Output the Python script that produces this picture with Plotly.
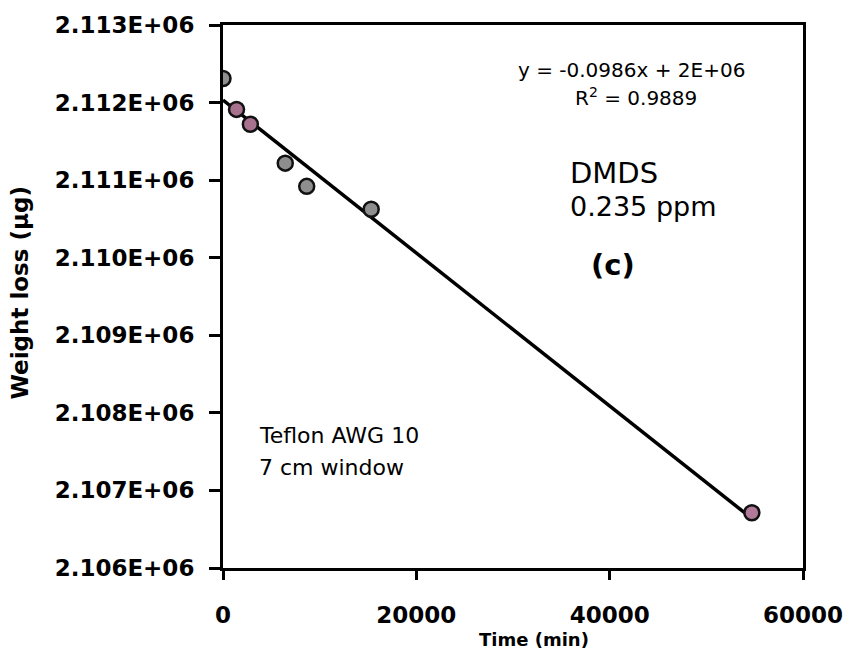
import numpy as np
import plotly.graph_objects as go

# Measured weight of the Teflon tube over time (DMDS 0.235 ppm)
time_min = [0, 1400, 2830, 6440, 8660, 15330, 54710]
weight_ug = [2112310, 2111912, 2111720, 2111219, 2110920, 2110625, 2106712]
marker_fill = ["#8e8e8e", "#a8728f", "#a8728f", "#8e8e8e", "#8e8e8e", "#8e8e8e", "#b07a98"]

# Linear trend reported on the chart
slope = -0.0986
r_squared = 0.9889

x_ticks = [0, 20000, 40000, 60000]
x_tick_text = ["0", "20000", "40000", "60000"]
y_ticks = [2106000, 2107000, 2108000, 2109000, 2110000, 2111000, 2112000, 2113000]
y_tick_text = ["2.106E+06", "2.107E+06", "2.108E+06", "2.109E+06",
               "2.110E+06", "2.111E+06", "2.112E+06", "2.113E+06"]

# Intercept of the trend line with the reported slope
xs = np.array(time_min, dtype=float)
ys = np.array(weight_ug, dtype=float)
intercept = ys.mean() - slope * xs.mean()
trend_x = np.array([0.0, xs.max()])
trend_y = slope * trend_x + intercept

W, H = 855, 660
L, R, T, B = 223, 810, 23, 568


def px(x, y):
    """Pixel position -> paper coordinates."""
    return (x - L) / (R - L), (B - y) / (B - T)


fig = go.Figure()
fig.add_trace(go.Scatter(
    x=trend_x, y=trend_y, mode="lines",
    line=dict(color="black", width=3.5), hoverinfo="skip", showlegend=False,
))
fig.add_trace(go.Scatter(
    x=time_min, y=weight_ug, mode="markers",
    marker=dict(symbol="circle", size=15, color=marker_fill,
                line=dict(color="#111111", width=2.5)),
    showlegend=False,
))

tick_font = dict(family="DejaVu Sans", size=23, color="black", weight="bold")
axis_common = dict(
    showline=True, linewidth=3, linecolor="black", mirror=True,
    ticks="outside", tickwidth=3, tickcolor="black",
    showgrid=False, zeroline=False, tickfont=tick_font,
)

fig.update_xaxes(range=[0, 60000], tickvals=x_ticks, ticktext=x_tick_text,
                 ticklen=9, ticklabelstandoff=15, **axis_common)
fig.update_yaxes(range=[2106000, 2113000], tickvals=y_ticks, ticktext=y_tick_text,
                 ticklen=11, ticklabelstandoff=10, **axis_common)

annotations = []


def note(text, x, y, size, xanchor="center", bold=False, family="DejaVu Sans", angle=0):
    ax, ay = px(x, y)
    annotations.append(dict(
        text=text, x=ax, y=ay, xref="paper", yref="paper",
        xanchor=xanchor, yanchor="middle", showarrow=False, textangle=angle,
        font=dict(family=family, size=size, color="black",
                  weight="bold" if bold else "normal"),
    ))


note(f"y = {slope}x + 2E+06", 636, 68, 20)
note(f"R<sup>2</sup> = {r_squared}", 641, 95, 20)
note("DMDS", 572, 172, 29, xanchor="left")
note("0.235 ppm", 572, 205, 27, xanchor="left")
note("(c)", 618, 264, 29, bold=True)
note("Teflon AWG 10", 257, 435, 22, xanchor="left")
note("7 cm window", 257, 467, 22, xanchor="left")
note("Time (min)", 538, 640, 18, bold=True)
note("Weight loss (µg)", 18, 292, 23, bold=True, angle=-90)

fig.update_layout(
    width=W, height=H,
    margin=dict(l=L, r=W - R, t=T, b=H - B),
    paper_bgcolor="white", plot_bgcolor="white",
    annotations=annotations,
)

fig.write_html("out.html")
